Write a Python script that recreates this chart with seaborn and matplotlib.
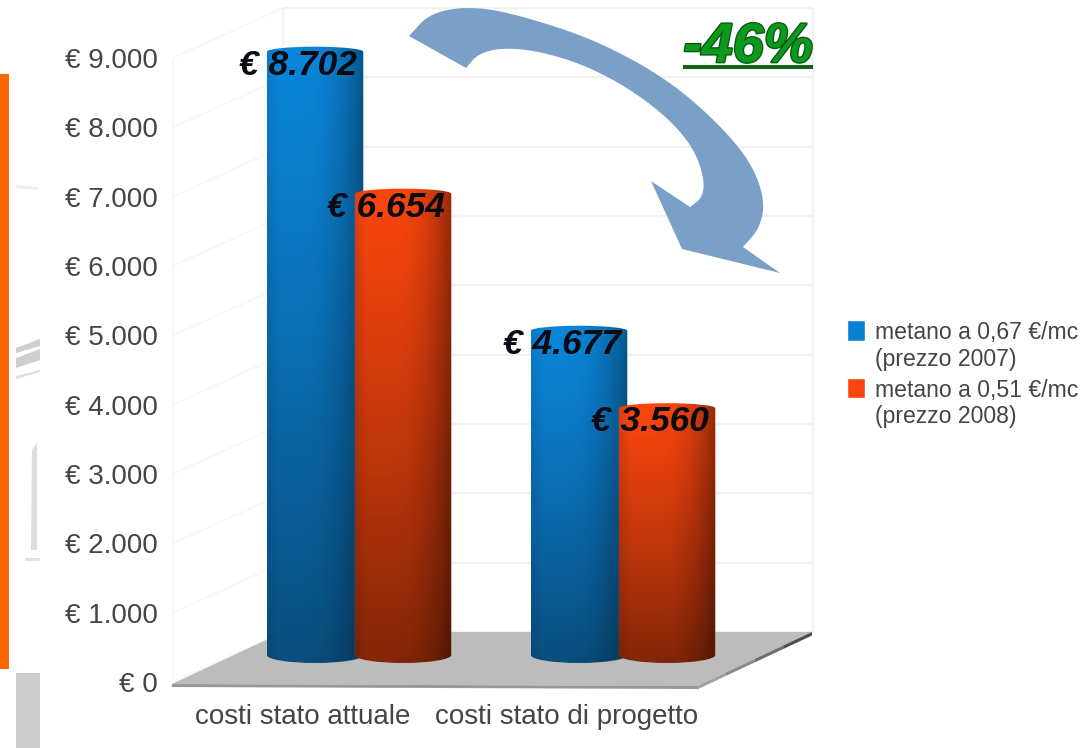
import numpy as np
import pandas as pd
import seaborn as sns
import matplotlib
matplotlib.use("Agg")
import matplotlib.pyplot as plt
import matplotlib.patheffects as pe
from matplotlib.legend_handler import HandlerPatch
from matplotlib.patches import PathPatch, Polygon, Rectangle
from matplotlib.path import Path
from matplotlib.transforms import Affine2D

# Annual cost per scenario and methane price
categories = ["costi stato attuale", "costi stato di progetto"]
series_names = ["metano a 0,67 €/mc\n(prezzo 2007)", "metano a 0,51 €/mc\n(prezzo 2008)"]
costs_2007 = [8702, 4677]
costs_2008 = [6654, 3560]
y_ticks = [0, 1000, 2000, 3000, 4000, 5000, 6000, 7000, 8000, 9000]
saving_label = "-46%"

W, H = 1084, 748
PX_PER_UNIT = 69.33 / 1000
Y0_PX = 682
GROUP_PX = 264
GROUP0_PX = 359
TEXT = "#454545"

sns.set_theme(style="white")
plt.rcParams["font.family"] = ["Liberation Sans", "DejaVu Sans"]


def euro(v):
    return "€ " + f"{v:,}".replace(",", ".")


def dx(px):
    return (px - GROUP0_PX) / GROUP_PX


def dy(px):
    return (Y0_PX - px) / PX_PER_UNIT


df = pd.DataFrame({
    "categoria": categories * 2,
    "serie": [series_names[0]] * 2 + [series_names[1]] * 2,
    "costo": costs_2007 + costs_2008,
})

fig = plt.figure(figsize=(W / 100, H / 100), dpi=100, facecolor="white")
ax = fig.add_axes([172 / W, 1 - Y0_PX / H, (820 - 172) / W, Y0_PX / H])
ax.patch.set_alpha(0)
pixels = Affine2D().scale(1, -1).translate(0, H)

sns.barplot(data=df, x="categoria", y="costo", hue="serie", hue_order=series_names,
            palette=["#0a80d2", "#fb4410"], width=2 * 88 / GROUP_PX, gap=0,
            errorbar=None, ax=ax, saturation=1)

# Perspective box: side wall, back wall and floor
wall_kw = dict(color="#f1f1f1", lw=1.6, zorder=0.5, clip_on=False, solid_capstyle="butt")
side_kw = {**wall_kw, "color": "#f8f8f8"}
depth_y = dy(632)
for v in y_ticks:
    ax.plot([dx(173), dx(283)], [v, v + depth_y], **side_kw)
    ax.plot([dx(283), dx(813)], [v + depth_y] * 2, **wall_kw)
ax.plot([dx(173)] * 2, [0, y_ticks[-1]], **side_kw)
for xp in (283, 813):
    ax.plot([dx(xp)] * 2, [depth_y, y_ticks[-1] + depth_y], **wall_kw)

floor = [(172, 684), (697, 686), (812, 632), (283, 632)]
edge_front = [(172, 684), (697, 686), (699, 689), (172, 687)]
ax.add_patch(Polygon([(dx(a), dy(b)) for a, b in floor], fc="#bcbcbc", ec="none", zorder=1, clip_on=False))
ax.add_patch(Polygon([(dx(a), dy(b)) for a, b in edge_front], fc="#979797", ec="none", zorder=1, clip_on=False))
# The side edge of the floor darkens towards the back
side_start, side_end = np.array([697.0, 686.0]), np.array([812.0, 632.0])
side_colors = ["#a0a0a0", "#8a8a8a", "#6e6e6e", "#4c4c4c"]
for i, col in enumerate(side_colors):
    a = side_start + (side_end - side_start) * i / len(side_colors)
    b = side_start + (side_end - side_start) * (i + 1) / len(side_colors)
    quad = [a, b, b + (0, 3.5), a + (0, 3.5)]
    ax.add_patch(Polygon([(dx(p[0]), dy(p[1])) for p in quad], fc=col, ec="none", zorder=1, clip_on=False))

# Turn the flat bars into shaded cylinders standing on the floor
BASE = dy(655)
BAR_W = 96.5 / GROUP_PX
RY_BOTTOM = 8 / PX_PER_UNIT
RY_TOP = 5 / PX_PER_UNIT
KAPPA = 0.5523
shades = [
    (np.array([11, 134, 218]), np.array([9, 78, 126])),
    (np.array([250, 70, 14]), np.array([132, 38, 8])),
]
u = np.linspace(0, 1, 120)
profile = [1 - 0.36 * np.clip((u - 0.38) / 0.62, 0, 1) ** 2 - 0.08 * np.clip((0.12 - u) / 0.12, 0, 1),
           1 - 0.40 * np.clip((u - 0.42) / 0.58, 0, 1) ** 2 - 0.10 * np.clip((0.12 - u) / 0.12, 0, 1)]

for s, container in enumerate(ax.containers):
    for bar in container:
        value = bar.get_height()
        cx = bar.get_x() + bar.get_width() / 2
        x0, x1 = cx - BAR_W / 2, cx + BAR_W / 2
        rx = BAR_W / 2
        y_bot, y_top = BASE, BASE + value
        verts = [
            (x0, y_bot),
            (x0, y_bot - KAPPA * RY_BOTTOM), (cx - KAPPA * rx, y_bot - RY_BOTTOM), (cx, y_bot - RY_BOTTOM),
            (cx + KAPPA * rx, y_bot - RY_BOTTOM), (x1, y_bot - KAPPA * RY_BOTTOM), (x1, y_bot),
            (x1, y_top),
            (x1, y_top + KAPPA * RY_TOP), (cx + KAPPA * rx, y_top + RY_TOP), (cx, y_top + RY_TOP),
            (cx - KAPPA * rx, y_top + RY_TOP), (x0, y_top + KAPPA * RY_TOP), (x0, y_top),
            (x0, y_bot),
        ]
        codes = [Path.MOVETO] + [Path.CURVE4] * 6 + [Path.LINETO] + [Path.CURVE4] * 6 + [Path.CLOSEPOLY]
        outline = PathPatch(Path(verts, codes), transform=ax.transData, fc="none", ec="none")
        ax.add_patch(outline)

        bar.set_y(BASE)
        bar.set_x(x0)
        bar.set_width(BAR_W)
        bar.set_zorder(3 + s)
        bar.set_clip_path(outline)

        t = np.linspace(0, 1, 200)[:, None, None] ** 1.15
        top_c, bottom_c = shades[s]
        rgb = (top_c + (bottom_c - top_c) * t) * profile[s][None, :, None]
        img = ax.imshow(np.clip(rgb, 0, 255).astype(np.uint8), origin="upper", aspect="auto",
                        extent=(x0, x1, y_bot - RY_BOTTOM, y_top + RY_TOP),
                        zorder=3 + s + 0.1, interpolation="bilinear")
        img.set_clip_path(outline)

        ax.annotate(euro(int(value)), xy=(cx, y_top), xytext=(-17 * 0.72, -13.5 * 0.72),
                    textcoords="offset points", ha="center", va="center",
                    fontsize=25.5, fontweight="bold", fontstyle="italic",
                    color="#0a0a12", zorder=8, annotation_clip=False)

ax.set_xlim(dx(172), dx(820))
ax.set_ylim(0, Y0_PX / PX_PER_UNIT)
ax.set_xlabel("")
ax.set_ylabel("")
ax.set_yticks(y_ticks, [euro(v) for v in y_ticks])
ax.set_xticks([i - 56 / GROUP_PX for i in range(len(categories))], categories)
ax.tick_params(axis="y", length=0, pad=10.5, labelsize=20, labelcolor=TEXT)
ax.tick_params(axis="x", length=0, pad=16, labelsize=20, labelcolor=TEXT)
sns.despine(ax=ax, left=True, bottom=True)


# Legend on the right of the plot, with each swatch beside the first line of its label
def raised_swatch(legend, orig_handle, xdescent, ydescent, width, height, fontsize):
    return Rectangle((-xdescent, -ydescent + 12), width, height)


handles = [c.patches[0] for c in ax.containers]
labels = [t.get_text() for t in ax.get_legend().get_texts()]
ax.legend(handles, labels, loc="upper left", bbox_to_anchor=(847 / W, 1 - 321 / H),
          bbox_transform=fig.transFigure, frameon=False, fontsize=16.6, borderpad=0,
          borderaxespad=0, handlelength=0.79, handleheight=1.0, handletextpad=0.44,
          labelspacing=0.35, labelcolor=TEXT,
          handler_map={h: HandlerPatch(patch_func=raised_swatch) for h in handles})

# Curved arrow showing the saving
outer = np.array([(409, 36), (431, 12), (477, 6), (533, 19), (600, 42), (667, 79), (717, 122),
                  (751, 162), (765, 200), (760, 228), (743, 247)], float)
inner = np.array([(690, 207), (703, 197), (704, 177), (693, 147), (667, 117), (627, 87), (580, 63),
                  (533, 50), (500, 48), (478, 54), (466, 68)], float)


def smooth(points, rounds=3):
    for _ in range(rounds):
        a, b = points[:-1], points[1:]
        mid = np.empty((2 * len(a), 2))
        mid[0::2] = 0.75 * a + 0.25 * b
        mid[1::2] = 0.25 * a + 0.75 * b
        points = np.vstack([points[:1], mid, points[-1:]])
    return points


arrow_pts = np.vstack([smooth(outer), [(780, 273), (682, 249), (651, 181)], smooth(inner)])
fig.add_artist(Polygon(arrow_pts, closed=True, fc="#7ba0c8", ec="none", transform=pixels, zorder=5))

# Saving percentage with its underline
fig.text(813, 62, saving_label, transform=pixels, ha="right", va="baseline", fontsize=40,
         fontweight="bold", fontstyle="italic", color="#0b9a1e", zorder=6,
         path_effects=[pe.withStroke(linewidth=2, foreground="#0b5a14")])
fig.add_artist(Rectangle((683, 65), 130, 4, fc="#0c6414", ec="none", transform=pixels, zorder=6))

# Slide elements left of the chart
fig.add_artist(Rectangle((0, 74), 9, 595, fc="#ff6600", ec="none", transform=pixels))
fig.add_artist(Rectangle((16, 673), 24, 75, fc="#cdcdcd", ec="none", transform=pixels))
for pts, col in [
    ([(16, 348), (40, 339), (40, 346), (16, 353)], "#cfcfcf"),
    ([(16, 358), (40, 349), (40, 360), (16, 368)], "#cfcfcf"),
    ([(16, 376), (40, 370), (40, 372), (16, 379)], "#dedede"),
    ([(32, 450), (37, 443), (37, 550), (31, 550)], "#dedede"),
    ([(25, 558), (40, 558), (40, 561), (25, 561)], "#e0e0e0"),
    ([(16, 185), (38, 187), (38, 190), (16, 188)], "#efefef"),
]:
    fig.add_artist(Polygon(pts, closed=True, fc=col, ec="none", transform=pixels))

fig.savefig("out.png", dpi=100)
